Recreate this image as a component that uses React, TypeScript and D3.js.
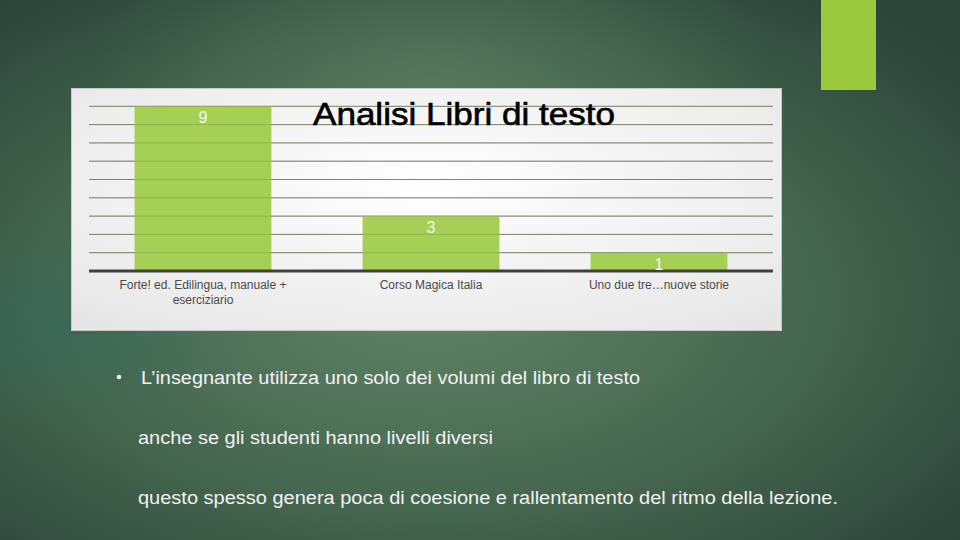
import React from 'react';
import * as d3 from 'd3';

// chart data
const categories = ['Forte! ed. Edilingua, manuale + eserciziario', 'Corso Magica Italia', 'Uno due tre…nuove storie'];
const categoryLines = [['Forte! ed. Edilingua, manuale +', 'eserciziario'], ['Corso Magica Italia'], ['Uno due tre…nuove storie']];
const counts = [9, 3, 1];
const chartTitle = 'Analisi Libri di testo';

// slide text
const bulletLines = [
  'L’insegnante utilizza uno solo dei volumi del libro di testo',
  'anche se gli studenti hanno livelli diversi',
  'questo spesso genera poca di coesione e rallentamento del ritmo della lezione.',
];

const W = 960;
const H = 540;
const plot = { left: 89, right: 773, top: 106.3, bottom: 271 };

const App: React.FC = () => {
  const x = d3.scaleBand<string>()
    .domain(categories)
    .range([plot.left, plot.right])
    .paddingInner(0.4)
    .paddingOuter(0.2);

  const y = d3.scaleLinear()
    .domain([0, 9])
    .range([plot.bottom, plot.top]);

  const gridTicks = y.ticks(9).filter(t => t > 0);
  const font = 'Liberation Sans, Arial, sans-serif';

  return (
    <svg width={W} height={H} style={{ position: 'absolute', left: 0, top: 0, fontFamily: font }}>
      <defs>
        <radialGradient id="bg" cx="0.45" cy="0.55" r="0.7">
          <stop offset="0" stopColor="#5f8467" />
          <stop offset="0.55" stopColor="#46674f" />
          <stop offset="1" stopColor="#2b463a" />
        </radialGradient>
        <radialGradient id="topglow" cx="0.45" cy="0.15" r="0.35">
          <stop offset="0" stopColor="#6a8c6e" stopOpacity="0.45" />
          <stop offset="1" stopColor="#6a8c6e" stopOpacity="0" />
        </radialGradient>
        <radialGradient id="tealspot" cx="0.06" cy="0.6" r="0.2">
          <stop offset="0" stopColor="#2f6a5c" stopOpacity="0.5" />
          <stop offset="1" stopColor="#2f6a5c" stopOpacity="0" />
        </radialGradient>
        <radialGradient id="panel" cx="0.5" cy="0.4" r="0.75">
          <stop offset="0" stopColor="#ffffff" />
          <stop offset="1" stopColor="#e6e6e6" />
        </radialGradient>
      </defs>

      <rect width={W} height={H} fill="url(#bg)" />
      <rect width={W} height={H} fill="url(#topglow)" />
      <rect width={W} height={H} fill="url(#tealspot)" />

      {/* accent block */}
      <rect x={821} y={0} width={55} height={90} fill="#9aca3c" />

      {/* chart panel */}
      <rect x={71.5} y={88.5} width={710} height={242} fill="url(#panel)" stroke="#c9c9c9" />

      {gridTicks.map(t => (
        <line key={`g${t}`} x1={plot.left} x2={plot.right} y1={y(t)} y2={y(t)} stroke="#8a8a8a" strokeWidth={1} />
      ))}

      {categories.map((c, i) => (
        <rect key={c} x={x(c)} y={y(counts[i])} width={x.bandwidth()} height={y(0) - y(counts[i])} fill="#a6cf55" />
      ))}

      {/* gridlines faintly visible through the bars */}
      {gridTicks.map(t => (
        <line key={`o${t}`} x1={plot.left} x2={plot.right} y1={y(t)} y2={y(t)} stroke="#5d7a2c" strokeOpacity={0.3} strokeWidth={1} />
      ))}

      <line x1={plot.left} x2={plot.right} y1={y(0)} y2={y(0)} stroke="#404040" strokeWidth={3} />

      {categories.map((c, i) => (
        <text key={`v${c}`} x={(x(c) ?? 0) + x.bandwidth() / 2} y={y(counts[i]) + 17} textAnchor="middle" fontSize={16} fill="#f4f4f4">
          {counts[i]}
        </text>
      ))}

      {categories.map((c, i) => (
        <text key={`l${c}`} x={(x(c) ?? 0) + x.bandwidth() / 2} y={289} textAnchor="middle" fontSize={12} fill="#4a4a4a">
          {categoryLines[i].map((ln, j) => (
            <tspan key={j} x={(x(c) ?? 0) + x.bandwidth() / 2} dy={j === 0 ? 0 : 15}>{ln}</tspan>
          ))}
        </text>
      ))}

      <text x={313} y={125} fontSize={31} fill="#000000" stroke="#000000" strokeWidth={0.6} textLength={302} lengthAdjust="spacingAndGlyphs">{chartTitle}</text>

      {/* bullet text */}
      <circle cx={119} cy={377} r={2.3} fill="#f0f0f0" />
      <text x={141} y={384} fontSize={18} fill="#f2f2f2" textLength={499} lengthAdjust="spacingAndGlyphs">{bulletLines[0]}</text>
      <text x={138} y={444} fontSize={18} fill="#f2f2f2" textLength={355} lengthAdjust="spacingAndGlyphs">{bulletLines[1]}</text>
      <text x={138} y={504} fontSize={18} fill="#f2f2f2" textLength={700} lengthAdjust="spacingAndGlyphs">{bulletLines[2]}</text>
    </svg>
  );
};

export default App;
